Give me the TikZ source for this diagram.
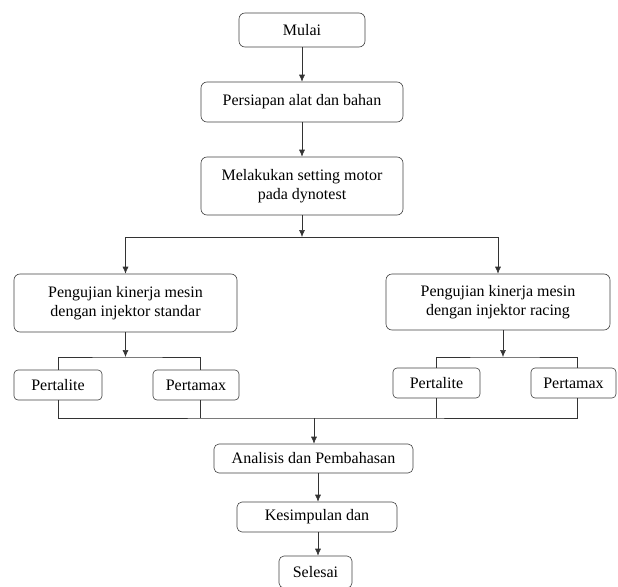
\documentclass[tikz,border=0pt]{standalone}
\usepackage{fontspec}
\setmainfont{Liberation Serif}
\usetikzlibrary{positioning, arrows.meta, calc}

\begin{document}
\begin{tikzpicture}[
    x=1pt, y=-1pt,
    font=\fontsize{16}{18.5}\selectfont,
    box/.style={
        rectangle, draw=black!75, semithick, rounded corners=6pt,
        align=center, inner sep=0pt
    },
    fuel/.style={
        box, rounded corners=4pt, minimum height=30pt
    },
    line/.style={draw=black!80, semithick},
    arr/.style={line, -{Latex[length=7pt, width=6pt]}}
]
\useasboundingbox (0,0) rectangle (618,586);

% ---------------- Persiapan ----------------
\node[box, minimum width=126pt, minimum height=34pt] (mulai) at (302,30) {Mulai};
\node[box, minimum width=202pt, minimum height=40pt] (persiapan) at (302,102) {Persiapan alat dan bahan};
\node[box, minimum width=202pt, minimum height=58pt] (setting) at (302,186) {Melakukan setting motor\\pada dynotest};

% ---------------- Pengujian ----------------
\node[box, minimum width=223pt, minimum height=58pt] (ujistd) at (125.5,303) {Pengujian kinerja mesin\\dengan injektor standar};
\node[box, minimum width=224pt, minimum height=56pt] (ujirac) at (498,302) {Pengujian kinerja mesin\\dengan injektor racing};

\node[fuel, minimum width=88pt] (pl_std) at (58,385) {Pertalite};
\node[fuel, minimum width=86pt] (pm_std) at (196,385) {Pertamax};
\node[fuel, minimum width=87pt] (pl_rac) at (436.5,383) {Pertalite};
\node[fuel, minimum width=85pt] (pm_rac) at (573.5,383) {Pertamax};

% ---------------- Hasil ----------------
\node[box, rounded corners=5pt, minimum width=199pt, minimum height=29pt] (analisis) at (313.5,458.5) {Analisis dan Pembahasan};
\node[box, rounded corners=5pt, minimum width=160pt, minimum height=30pt] (kesimpulan) at (317,517) {Kesimpulan dan};
\node[box, rounded corners=5pt, minimum width=73pt, minimum height=32pt] (selesai) at (315.5,572) {Selesai};

% ---------------- Junctions ----------------
\coordinate (split) at (302,237);
\coordinate (split_std) at (125.5,357);
\coordinate (split_rac) at (503,357);
\coordinate (merge) at (314,418);
\coordinate (tail) at (318,0);

% ---------------- Arrows ----------------
\draw[arr] (mulai) -- (persiapan);
\draw[arr] (persiapan) -- (setting);
\draw[arr] (setting.south) -- (split);
\draw[line] (ujistd.north |- split) -- (ujirac.north |- split);
\draw[arr] (ujistd.north |- split) -- (ujistd.north);
\draw[arr] (ujirac.north |- split) -- (ujirac.north);

\draw[arr] (ujistd.south) -- (split_std);
\draw[line] (pl_std.north) |- (split_std) -| ([xshift=4pt]pm_std.north);
\draw[arr] (split_rac |- ujirac.south) -- (split_rac);
\draw[line] (pl_rac.north) |- (split_rac) -| ([xshift=3.5pt]pm_rac.north);

\draw[line] (pl_std.south) |- (merge) -| ([xshift=3.5pt]pm_rac.south);
\draw[line] ([xshift=4pt]pm_std.south) -- ([xshift=4pt]pm_std.south |- merge);
\draw[line] (pl_rac.south) -- (pl_rac.south |- merge);
\draw[arr] (merge) -- (merge |- analisis.north);
\draw[arr] (analisis.south -| tail) -- (kesimpulan.north -| tail);
\draw[arr] (kesimpulan.south -| tail) -- (selesai.north -| tail);

\end{tikzpicture}
\end{document}
